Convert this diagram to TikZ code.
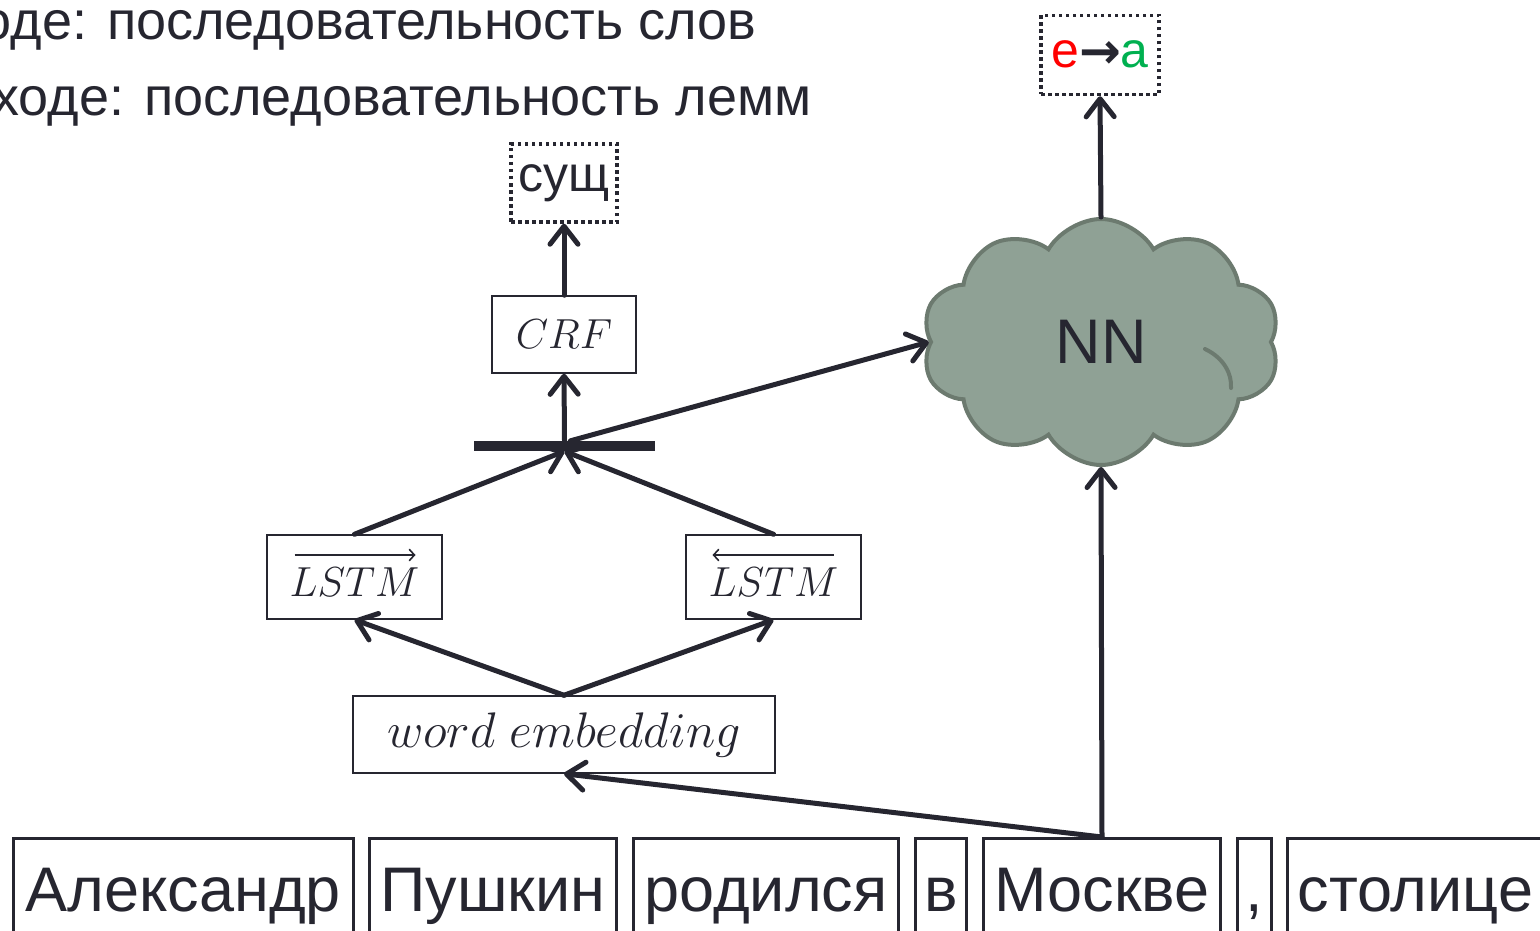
\RequirePackage{fix-cm}
\documentclass[tikz,border=0pt]{standalone}
\usepackage{fontspec}
\setmainfont{Liberation Sans}
\newfontfamily\arrowfont{DejaVu Sans}
\usetikzlibrary{arrows.meta,shapes.symbols}
\definecolor{ink}{RGB}{38,38,48}
\definecolor{cloudfill}{RGB}{143,161,149}
\definecolor{cloudline}{RGB}{108,122,111}
\definecolor{ered}{RGB}{255,0,0}
\definecolor{agreen}{RGB}{0,176,80}
\begin{document}
\begin{tikzpicture}[x=1pt,y=-1pt,
  mbox/.style={draw=ink, line width=1.5pt, fill=white, inner sep=0pt, text=ink},
  wbox/.style={draw=ink, line width=3pt, anchor=north west, inner sep=0pt,
    text height=73pt, text depth=70pt, font=\fontsize{63}{76}\selectfont, text=ink},
  dbox/.style={draw=ink, line width=3.5pt, dash pattern=on 3.5pt off 3.5pt, inner sep=0pt,
    fill=white, text=ink, font=\fontsize{50}{60}\selectfont},
  toptext/.style={anchor=base east, inner sep=0pt, text=ink, font=\fontsize{54}{64}\selectfont},
  conn/.style={draw=ink, line width=5pt, line cap=round, line join=round,
    -{Straight Barb[length=18pt, width=28pt, line cap=round, line join=round]}},
  overarrow/.style={draw=ink, line width=1.6pt,
    -{Straight Barb[length=5pt, width=11pt, line cap=round]}},
  nncloud/.style={cloud, cloud puffs=10, cloud puff arc=120, aspect=1.45,
    minimum width=358pt, minimum height=246pt, fill=cloudfill, draw=cloudline,
    line width=4pt, text=ink, font=\fontsize{63}{76}\selectfont, inner sep=0pt}
]
\useasboundingbox (0,0) rectangle (1540,931);
\clip (0,0) rectangle (1540,931);

% header lines (cut at the left edge)
\node[toptext] (in) at (757,40) {На входе: последовательность слов};
\node[toptext] (out) at (812,116) {На выходе: последовательность лемм};

% model boxes
\node[dbox, minimum width=106pt, minimum height=78pt] (pos) at (564,183) {сущ};
\node[dbox, minimum width=118pt, minimum height=79pt] (lem) at (1100,55)
  {\textcolor{ered}{е}\textcolor{ink}{\arrowfont\bfseries\fontsize{50}{60}\selectfont\raisebox{-1pt}{→}}\textcolor{agreen}{а}};
\node[mbox, minimum width=144pt, minimum height=77pt, font=\fontsize{42}{50}\selectfont] (crf) at (564,334.5) {$CRF$};
\node[mbox, minimum width=175pt, minimum height=84pt, font=\fontsize{42}{50}\selectfont] (lstmL) at (354.5,577) {\raisebox{-19pt}[0pt][0pt]{$LSTM$}};
\node[mbox, minimum width=175pt, minimum height=84pt, font=\fontsize{42}{50}\selectfont] (lstmR) at (773.5,577) {\raisebox{-19pt}[0pt][0pt]{$LSTM$}};
\draw[overarrow] ([shift={(-60,-22)}]lstmL.center) -- ([shift={(61,-22)}]lstmL.center);
\draw[overarrow] ([shift={(60,-22)}]lstmR.center) -- ([shift={(-61,-22)}]lstmR.center);
\node[mbox, minimum width=422pt, minimum height=77pt, font=\fontsize{50}{60}\selectfont] (emb) at (564,734.5) {$word\ embedding$};
\node[fill=ink, inner sep=0pt, minimum width=181pt, minimum height=10pt] (bar) at (564.5,446) {};
\node[nncloud] (nn) at (1101,342) {NN};
\draw[cloudline, line width=4pt, line cap=round] (1205,349) .. controls (1224,358) and (1232,374) .. (1231,388);

% word boxes
\node[wbox, minimum width=340pt] (w1) at (12,837) {Александр};
\node[wbox, minimum width=247pt] (w2) at (368,837) {Пушкин};
\node[wbox, minimum width=265pt] (w3) at (632,837) {родился};
\node[wbox, minimum width=51pt] (w4) at (914,837) {в};
\node[wbox, minimum width=237pt] (w5) at (982,837) {Москве};
\node[wbox, minimum width=34pt] (w6) at (1236,837) {,};
\node[wbox, minimum width=256pt] (w7) at (1286,837) {столице};

% connectors
\draw[conn] (crf.north) -- (pos.south);
\draw[conn] (bar.north) -- (crf.south);
\draw[conn] ([xshift=6pt]bar.north) -- (nn.west);
\draw[conn] (lstmL.north) -- (bar.south);
\draw[conn] (lstmR.north) -- (bar.south);
\draw[conn] (emb.north) -- (lstmL.south);
\draw[conn] (emb.north) -- (lstmR.south);
\draw[conn] (w5.north) -- (emb.south);
\draw[conn] (w5.north) -- (nn.south);
\draw[conn] (nn.north) -- (lem.south);
\end{tikzpicture}
\end{document}
